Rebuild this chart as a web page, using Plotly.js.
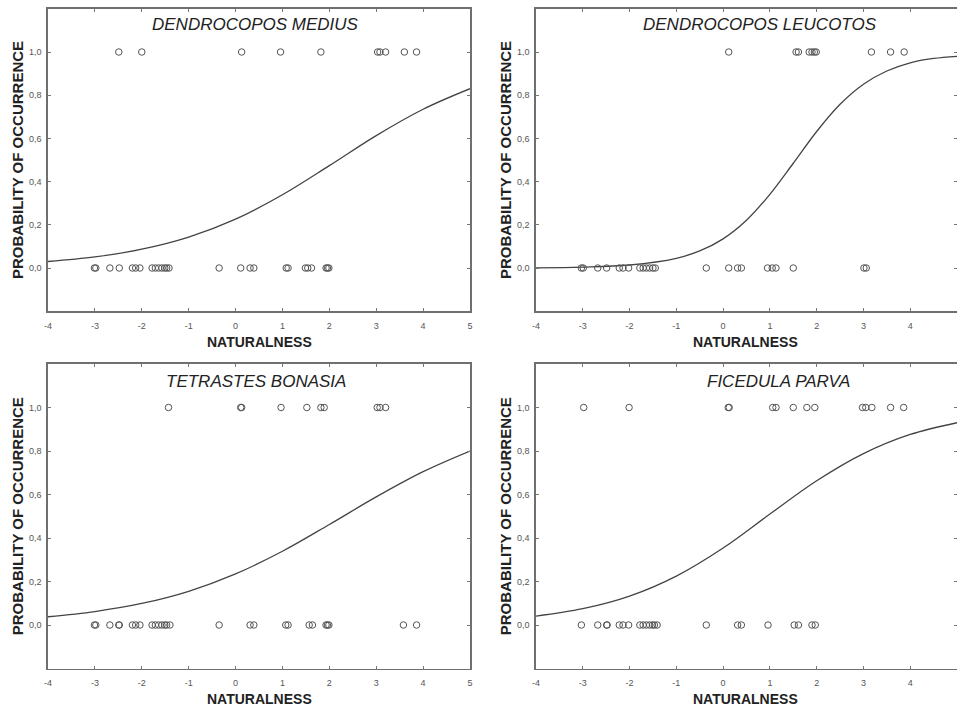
<!DOCTYPE html>
<html>
<head>
<meta charset="utf-8">
<script src="https://cdn.plot.ly/plotly-3.0.1.min.js"></script>
<style>html,body{margin:0;padding:0;background:#fff;}#chart{width:957px;height:708px;}</style>
</head>
<body>
<div id="chart"></div>
<script>
// ---- data ----
const xTickVals = [-4, -3, -2, -1, 0, 1, 2, 3, 4, 5];
const xTickText = ['-4', '-3', '-2', '-1', '0', '1', '2', '3', '4', '5'];
const yTickVals = [0, 0.2, 0.4, 0.6, 0.8, 1.0];
const yTickText = ['0,0', '0,2', '0,4', '0,6', '0,8', '1,0'];

const speciesTitles = ['DENDROCOPOS MEDIUS', 'DENDROCOPOS LEUCOTOS', 'TETRASTES BONASIA', 'FICEDULA PARVA'];
const xAxisTitle = 'NATURALNESS';
const yAxisTitle = 'PROBABILITY OF OCCURRENCE';

// Dendrocopos medius
const mediusPresent = [-2.49, -2.0, 0.13, 0.96, 1.82, 3.03, 3.08, 3.2, 3.6, 3.86];
const mediusAbsent = [-3.01, -2.98, -2.68, -2.48, -2.20, -2.13, -2.04, -1.78, -1.71, -1.64, -1.57, -1.51, -1.47, -1.42, -0.35, 0.11, 0.31, 0.39, 1.08, 1.12, 1.49, 1.54, 1.62, 1.93, 1.96, 1.99];
const mediusCurveX = [-4, -3, -2, -1, 0, 1, 2, 3, 4, 5];
const mediusCurveY = [0.030, 0.051, 0.087, 0.143, 0.226, 0.339, 0.474, 0.613, 0.735, 0.830];

// Dendrocopos leucotos
const leucotosPresent = [0.12, 1.56, 1.61, 1.84, 1.90, 1.95, 1.99, 3.17, 3.58, 3.87];
const leucotosAbsent = [-3.03, -2.99, -2.68, -2.49, -2.22, -2.14, -2.02, -1.78, -1.71, -1.64, -1.57, -1.50, -1.45, -0.36, 0.12, 0.31, 0.39, 0.95, 1.05, 1.13, 1.50, 3.01, 3.06];
const leucotosCurveX = [-4, -3, -2, -1, -0.5, 0, 0.5, 1, 1.5, 2, 2.5, 3, 3.5, 4, 4.5, 5];
const leucotosCurveY = [0.001, 0.004, 0.014, 0.045, 0.079, 0.135, 0.221, 0.341, 0.485, 0.632, 0.758, 0.851, 0.912, 0.950, 0.970, 0.980];

// Tetrastes bonasia
const bonasiaPresent = [-1.43, 0.11, 0.13, 0.97, 1.52, 1.82, 1.89, 3.02, 3.08, 3.2];
const bonasiaAbsent = [-3.01, -2.98, -2.68, -2.49, -2.48, -2.20, -2.13, -2.04, -1.78, -1.71, -1.64, -1.57, -1.51, -1.47, -1.40, -0.35, 0.31, 0.39, 1.07, 1.12, 1.57, 1.64, 1.93, 1.96, 1.99, 3.58, 3.86];
const bonasiaCurveX = [-4, -3, -2, -1, 0, 1, 2, 3, 4, 5];
const bonasiaCurveY = [0.038, 0.062, 0.099, 0.155, 0.235, 0.339, 0.462, 0.589, 0.705, 0.800];

// Ficedula parva
const parvaPresent = [-2.98, -2.01, 0.11, 0.13, 1.06, 1.13, 1.50, 1.79, 1.96, 2.98, 3.05, 3.18, 3.58, 3.86];
const parvaAbsent = [-3.03, -2.68, -2.49, -2.48, -2.22, -2.14, -2.02, -1.78, -1.71, -1.64, -1.57, -1.51, -1.47, -1.41, -0.36, 0.31, 0.39, 0.96, 1.52, 1.61, 1.90, 1.97];
const parvaCurveX = [-4, -3, -2, -1, 0, 1, 2, 3, 4, 5];
const parvaCurveY = [0.041, 0.075, 0.133, 0.225, 0.354, 0.510, 0.663, 0.788, 0.876, 0.930];

// ---- build ----
const W = 957, H = 708;
const FONT = '"Liberation Sans", Arial, sans-serif';
const px = v => v / W;
const py = v => 1 - v / H;

const panels = [
  {present: mediusPresent, absent: mediusAbsent, cx: mediusCurveX, cy: mediusCurveY},
  {present: leucotosPresent, absent: leucotosAbsent, cx: leucotosCurveX, cy: leucotosCurveY},
  {present: bonasiaPresent, absent: bonasiaAbsent, cx: bonasiaCurveX, cy: bonasiaCurveY},
  {present: parvaPresent, absent: parvaAbsent, cx: parvaCurveX, cy: parvaCurveY}
];

// pixel geometry of each plot frame: [left, right, top, bottom]
const frames = [
  [48, 470, 8.8, 311.2],
  [536, 957, 8.8, 311.2],
  [48, 470, 364, 668.5],
  [536, 957, 364, 668.5]
];
const titlePos = [[255, 25], [760, 25], [256, 381.5], [778, 381.5]];

const traces = [];
const layout = {
  width: W, height: H,
  margin: {l: 0, r: 0, t: 0, b: 0},
  paper_bgcolor: '#fff', plot_bgcolor: '#fff',
  showlegend: false,
  font: {family: FONT, color: '#555'},
  annotations: []
};

const markerStyle = {symbol: 'circle-open', size: 6.5, color: '#555', line: {width: 1, color: '#555'}};

panels.forEach((p, i) => {
  const n = i === 0 ? '' : String(i + 1);
  const xa = 'x' + n, ya = 'y' + n;
  traces.push({
    x: p.cx, y: p.cy, xaxis: xa, yaxis: ya, type: 'scatter', mode: 'lines',
    line: {color: '#444', width: 1.3, shape: 'spline', smoothing: 1}, hoverinfo: 'skip'
  });
  traces.push({
    x: p.present, y: p.present.map(() => 1), xaxis: xa, yaxis: ya, type: 'scatter', mode: 'markers',
    marker: markerStyle, cliponaxis: false
  });
  traces.push({
    x: p.absent, y: p.absent.map(() => 0), xaxis: xa, yaxis: ya, type: 'scatter', mode: 'markers',
    marker: markerStyle, cliponaxis: false
  });
  const f = frames[i];
  const axBase = {
    showgrid: false, zeroline: false, showline: true, linecolor: '#6f6f6f', linewidth: 1.6,
    mirror: 'ticks', ticks: 'inside', ticklen: 3, tickwidth: 1, tickcolor: '#777',
    tickfont: {family: FONT, size: 9, color: '#555'}, fixedrange: true
  };
  layout['xaxis' + n] = Object.assign({}, axBase, {
    domain: [px(f[0]), px(f[1])], range: [-4, 5], anchor: ya,
    tickvals: xTickVals, ticktext: xTickText, ticklabelstandoff: 5
  });
  layout['yaxis' + n] = Object.assign({}, axBase, {
    domain: [py(f[3]), py(f[2])], range: [-0.2, 1.2], anchor: xa,
    tickvals: yTickVals, ticktext: yTickText, ticklabelstandoff: 3
  });
  // panel title
  layout.annotations.push({
    text: speciesTitles[i], xref: 'paper', yref: 'paper',
    x: px(titlePos[i][0]), y: py(titlePos[i][1]), xanchor: 'center', yanchor: 'middle',
    showarrow: false, font: {family: FONT, size: 17, color: '#222', style: 'italic'}
  });
  // x axis title
  layout.annotations.push({
    text: '<b>' + xAxisTitle + '</b>', xref: 'paper', yref: 'paper',
    x: px((f[0] + f[1]) / 2 - (i % 2 ? 1 : 0)), y: py(f[3] + 30.5), xanchor: 'center', yanchor: 'middle',
    showarrow: false, font: {family: FONT, size: 14, color: '#222'}
  });
  // y axis title
  layout.annotations.push({
    text: '<b>' + yAxisTitle + '</b>', xref: 'paper', yref: 'paper',
    x: px(f[0] - 31), y: py((f[2] + f[3]) / 2), xanchor: 'center', yanchor: 'middle',
    textangle: -90, showarrow: false, font: {family: FONT, size: 15, color: '#222'}
  });
});

Plotly.newPlot('chart', traces, layout, {staticPlot: true, displayModeBar: false});
</script>
</body>
</html>
